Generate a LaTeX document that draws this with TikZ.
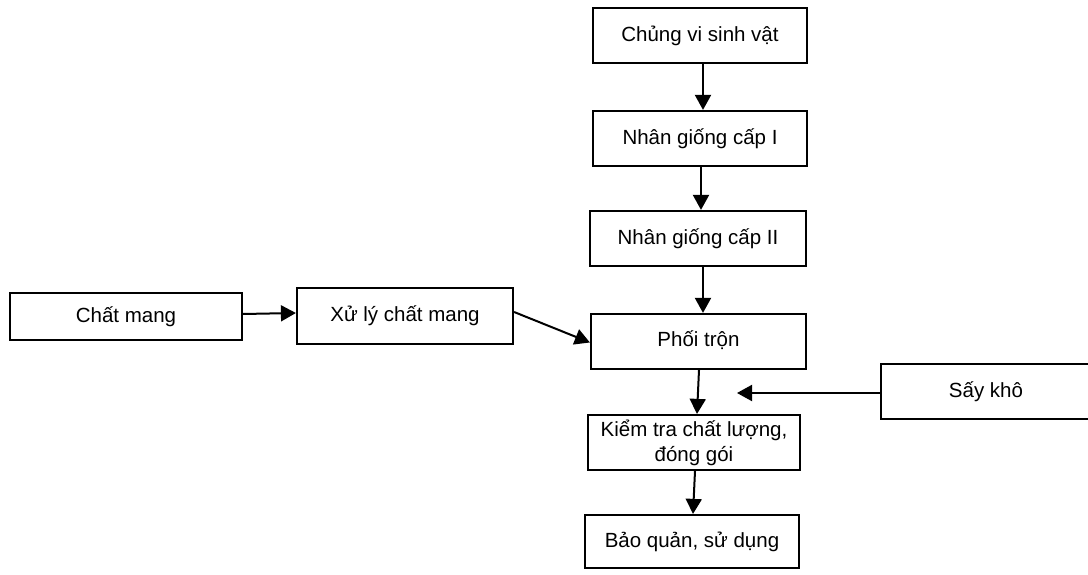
\documentclass[tikz,border=0pt]{standalone}
\usepackage{fontspec}
\setmainfont{Liberation Sans}
\usetikzlibrary{arrows.meta}
\begin{document}
\begin{tikzpicture}[x=1pt,y=-1pt,
  box/.style={draw=black, line width=2.2pt, rectangle, inner sep=0pt, align=center,
    font=\fontsize{20.5}{25}\selectfont},
  conn/.style={line width=2pt, -{Triangle[length=15pt,width=16pt]}}]
\useasboundingbox (0,0) rectangle (1088,575);
\node[box, minimum width=214pt, minimum height=55pt] (chung) at (700,35.5) {\raisebox{3pt}{Chủng vi sinh vật}};
\node[box, minimum width=214pt, minimum height=55pt] (nhan1) at (700,138.5) {\raisebox{2pt}{Nhân giống cấp I}};
\node[box, minimum width=216pt, minimum height=55pt] (nhan2) at (698,238.5) {\raisebox{2pt}{Nhân giống cấp II}};
\node[box, minimum width=232pt, minimum height=47pt] (chatmang) at (126,316.5) {Chất mang};
\node[box, minimum width=216pt, minimum height=56pt] (xuly) at (405,316) {\raisebox{4pt}{Xử lý chất mang}};
\node[box, minimum width=215pt, minimum height=55pt] (phoi) at (698.5,341.5) {\raisebox{5pt}{Phối trộn}};
\node[box, minimum width=210pt, minimum height=55pt] (say) at (986,391.5) {\raisebox{3pt}{Sấy khô}};
\node[box, minimum width=212pt, minimum height=55pt] (kiem) at (694,442.5) {Kiểm tra chất lượng,\\đóng gói};
\node[box, minimum width=214pt, minimum height=53pt] (bao) at (692,541.5) {Bảo quản, sử dụng};
\coordinate (sayend) at (737,393);
\draw[conn] (chung.south -| 703,0) -- (nhan1.north -| 703,0);
\draw[conn] (nhan1.south -| 701,0) -- (nhan2.north -| 701,0);
\draw[conn] (nhan2.south -| 703,0) -- (phoi.north -| 703,0);
\draw[conn] (chatmang.east |- 0,314) -- (xuly.west |- 0,313);
\draw[conn] (xuly.east |- 0,312) -- ([yshift=-1pt]phoi.west);
\draw[conn] (phoi.south -| 699,0) -- (kiem.north -| 697,0);
\draw[conn] (say.west |- 0,393) -- (sayend);
\draw[conn] (kiem.south -| 695,0) -- (bao.north -| 693,0);
\end{tikzpicture}
\end{document}
